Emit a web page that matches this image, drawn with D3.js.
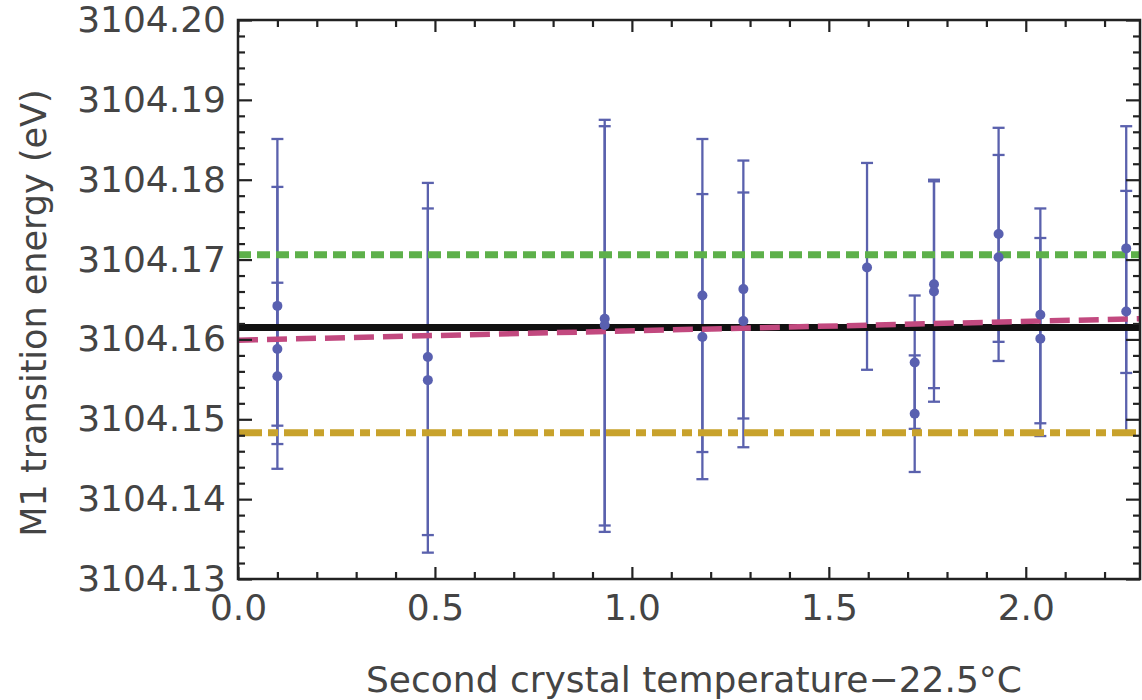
<!DOCTYPE html>
<html>
<head>
<meta charset="utf-8">
<script src="https://cdn.jsdelivr.net/npm/d3@7"></script>
<style>
  body { margin: 0; background: #fff; }
  svg text { font-family: "DejaVu Sans", sans-serif; }
</style>
</head>
<body>
<svg id="chart" width="1142" height="700"></svg>
<script>
// second crystal temperature minus 22.5 C
const temps = [0.10, 0.10, 0.10, 0.482, 0.482, 0.931, 0.931, 1.179, 1.179, 1.283, 1.283,
               1.597, 1.718, 1.718, 1.767, 1.767, 1.931, 1.931, 2.037, 2.037, 2.255, 2.255];
// measured M1 energies (eV)
const energy = [3104.1642, 3104.1588, 3104.1554, 3104.1578, 3104.1549, 3104.1626, 3104.1618,
                3104.1655, 3104.1603, 3104.1663, 3104.1623, 3104.1690, 3104.1571, 3104.1507,
                3104.1669, 3104.1660, 3104.1732, 3104.1703, 3104.1631, 3104.1601, 3104.1714, 3104.1635];
// error bar ends
const errLow = [3104.1492, 3104.1469, 3104.1438, 3104.1355, 3104.1333, 3104.1367, 3104.1359,
                3104.1459, 3104.1425, 3104.1501, 3104.1465, 3104.1562, 3104.1488, 3104.1434,
                3104.1539, 3104.1522, 3104.1597, 3104.1573, 3104.1495, 3104.1479, 3104.1558, 3104.1484];
const errHigh = [3104.1791, 3104.1851, 3104.1671, 3104.1796, 3104.1764, 3104.1875, 3104.1867,
                 3104.1851, 3104.1782, 3104.1824, 3104.1784, 3104.1821, 3104.1655, 3104.1580,
                 3104.1800, 3104.1798, 3104.1865, 3104.1831, 3104.1764, 3104.1727, 3104.1867, 3104.1786];

// reference levels
const weightedMean = 3104.1615;
const upperBand = 3104.1706;
const lowerBand = 3104.1483;
const fitStart = [0, 3104.1599];
const fitEnd = [2.29, 3104.1626];

const xMajor = [0, 0.5, 1.0, 1.5, 2.0];
const xMinor = [0.1, 0.2, 0.3, 0.4, 0.6, 0.7, 0.8, 0.9, 1.1, 1.2, 1.3, 1.4, 1.6, 1.7, 1.8, 1.9, 2.1, 2.2];
const yMajor = [3104.13, 3104.14, 3104.15, 3104.16, 3104.17, 3104.18, 3104.19, 3104.20];

const svg = d3.select("#chart");
const L = 238, R = 1140, T = 20, B = 579;

const x = d3.scaleLinear().domain([0, 2.29]).range([L, R]);
const y = d3.scaleLinear().domain([3104.13, 3104.20]).range([B, T]);

const yMinor = d3.range(3104.13, 3104.2001, 0.002).filter(v => !yMajor.some(m => Math.abs(m - v) < 1e-6));

const pts = temps.map((t, i) => ({t: t, e: energy[i], lo: errLow[i], hi: errHigh[i]}));

// error bars
const bars = svg.append("g").attr("stroke", "#5a61ad").attr("stroke-width", 2.3);
pts.forEach(p => {
    bars.append("line").attr("x1", x(p.t)).attr("x2", x(p.t)).attr("y1", y(p.lo)).attr("y2", y(p.hi));
    [p.lo, p.hi].forEach(v => {
        bars.append("line").attr("x1", x(p.t) - 6).attr("x2", x(p.t) + 6).attr("y1", y(v)).attr("y2", y(v));
    });
});

// horizontal reference lines
const ref = svg.append("g").attr("fill", "none");
ref.append("line")
    .attr("x1", L).attr("x2", R).attr("y1", y(weightedMean)).attr("y2", y(weightedMean))
    .attr("stroke", "#111").attr("stroke-width", 7);
ref.append("line")
    .attr("x1", x(fitStart[0])).attr("x2", x(fitEnd[0])).attr("y1", y(fitStart[1])).attr("y2", y(fitEnd[1]))
    .attr("stroke", "#c2497f").attr("stroke-width", 5.5).attr("stroke-dasharray", "20,9");
ref.append("line")
    .attr("x1", L).attr("x2", R).attr("y1", y(upperBand)).attr("y2", y(upperBand))
    .attr("stroke", "#5db04a").attr("stroke-width", 7).attr("stroke-dasharray", "13,6");
ref.append("line")
    .attr("x1", L).attr("x2", R).attr("y1", y(lowerBand)).attr("y2", y(lowerBand))
    .attr("stroke", "#c8a22c").attr("stroke-width", 7).attr("stroke-dasharray", "24,6,10,6");

// points
svg.append("g").selectAll("circle").data(pts).join("circle")
    .attr("cx", d => x(d.t)).attr("cy", d => y(d.e)).attr("r", 5)
    .attr("fill", "#5960b0");

// axes (ticks inward on all four sides)
function styleAxis(g) {
    g.select(".domain").remove();
    g.selectAll(".tick line").attr("stroke", "#222").attr("stroke-width", 2.2);
    g.selectAll(".tick text").attr("fill", "#444").attr("font-size", 36);
}
svg.append("g").attr("transform", `translate(0,${B})`)
    .call(d3.axisBottom(x).tickValues(xMajor).tickSize(-12).tickPadding(15).tickFormat(d3.format(".1f")))
    .call(styleAxis);
svg.append("g").attr("transform", `translate(0,${B})`)
    .call(d3.axisBottom(x).tickValues(xMinor).tickSize(-7).tickFormat(""))
    .call(styleAxis);
svg.append("g").attr("transform", `translate(0,${T})`)
    .call(d3.axisTop(x).tickValues(xMajor).tickSize(-12).tickFormat(""))
    .call(styleAxis);
svg.append("g").attr("transform", `translate(0,${T})`)
    .call(d3.axisTop(x).tickValues(xMinor).tickSize(-7).tickFormat(""))
    .call(styleAxis);

svg.append("g").attr("transform", `translate(${L},0)`)
    .call(d3.axisLeft(y).tickValues(yMajor).tickSize(-14).tickPadding(12).tickFormat(d3.format(".2f")))
    .call(styleAxis);
svg.append("g").attr("transform", `translate(${L},0)`)
    .call(d3.axisLeft(y).tickValues(yMinor).tickSize(-7).tickFormat(""))
    .call(styleAxis);
svg.append("g").attr("transform", `translate(${R},0)`)
    .call(d3.axisRight(y).tickValues(yMajor).tickSize(-14).tickFormat(""))
    .call(styleAxis);
svg.append("g").attr("transform", `translate(${R},0)`)
    .call(d3.axisRight(y).tickValues(yMinor).tickSize(-7).tickFormat(""))
    .call(styleAxis);

// frame
svg.append("rect").attr("x", L).attr("y", T).attr("width", R - L).attr("height", B - T)
    .attr("fill", "none").attr("stroke", "#222").attr("stroke-width", 2.5);

// axis titles
svg.append("text")
    .attr("x", 694).attr("y", 692)
    .attr("text-anchor", "middle").attr("font-size", 36).attr("fill", "#444")
    .text("Second crystal temperature\u221222.5\u00b0C");
svg.append("text")
    .attr("transform", `translate(46,313) rotate(-90)`)
    .attr("text-anchor", "middle").attr("font-size", 35).attr("fill", "#444")
    .text("M1 transition energy (eV)");
</script>
</body>
</html>
